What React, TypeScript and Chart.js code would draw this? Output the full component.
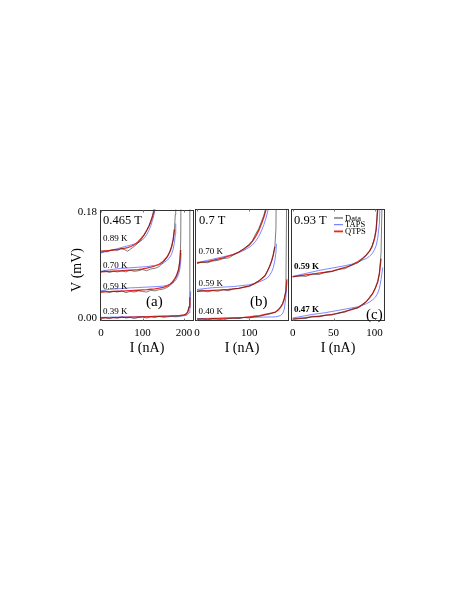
import React, { useEffect, useRef } from "react";
import { Chart, registerables } from "chart.js";
Chart.register(...registerables);

const SERIF = '"Liberation Serif", "Times New Roman", serif';

// Shared voltage axis (mV)
const V_MIN = -0.005;
const V_MAX = 0.1834;
const V_TICKS = [0, 0.18];

// ---------- Panel (a) 0.465 T ----------
const A_X_TICKS = [0, 100, 200];
const A089_I = [0, 8, 16, 24, 32, 40, 48, 56, 64, 72, 80, 88, 96, 104, 110, 116, 120, 124, 128, 132];
const A089_DATA = [0.111, 0.113, 0.112, 0.115, 0.116, 0.114, 0.118, 0.116, 0.113, 0.117, 0.121, 0.126, 0.132, 0.14, 0.148, 0.157, 0.165, 0.174, 0.186, 0.2];
const A089_QTPS = [0.113, 0.1135, 0.114, 0.1145, 0.115, 0.116, 0.117, 0.118, 0.119, 0.121, 0.124, 0.128, 0.134, 0.141, 0.148, 0.156, 0.163, 0.171, 0.181, 0.195];
const A089_TAPS = [0.11, 0.1115, 0.113, 0.1145, 0.116, 0.1175, 0.119, 0.1205, 0.122, 0.1235, 0.125, 0.127, 0.13, 0.135, 0.141, 0.149, 0.156, 0.165, 0.176, 0.19];

const A070_I = [0, 10, 20, 30, 40, 50, 60, 70, 80, 90, 100, 110, 120, 130, 140, 150, 160, 166, 170, 174, 177, 179, 180, 183];
const A070_DATA = [0.078, 0.08, 0.077, 0.079, 0.078, 0.08, 0.078, 0.081, 0.079, 0.08, 0.082, 0.08, 0.083, 0.084, 0.087, 0.094, 0.104, 0.113, 0.121, 0.134, 0.152, 0.175, 0.25, 0.3];
const A070_QTPS = [0.078, 0.0785, 0.079, 0.0793, 0.0797, 0.08, 0.0805, 0.081, 0.0815, 0.082, 0.083, 0.0843, 0.086, 0.088, 0.091, 0.096, 0.104, 0.112, 0.12, 0.133, 0.15, null, null, null];
const A070_TAPS = [0.079, 0.0805, 0.0815, 0.0825, 0.0832, 0.084, 0.0845, 0.085, 0.0855, 0.086, 0.0865, 0.087, 0.088, 0.089, 0.09, 0.093, 0.098, 0.103, 0.108, 0.117, 0.128, 0.142, 0.16, null];

const A059_I = [0, 10, 20, 30, 40, 50, 60, 70, 80, 90, 100, 110, 120, 130, 140, 150, 160, 166, 172, 177, 181, 184, 187, 190, 192, 193, 196];
const A059_DATA = [0.044, 0.046, 0.043, 0.045, 0.044, 0.046, 0.043, 0.045, 0.044, 0.046, 0.045, 0.044, 0.047, 0.046, 0.048, 0.049, 0.052, 0.055, 0.059, 0.064, 0.069, 0.074, 0.081, 0.095, 0.13, 0.25, 0.3];
const A059_QTPS = [0.044, 0.0443, 0.0446, 0.045, 0.0453, 0.0456, 0.046, 0.0463, 0.0466, 0.047, 0.0475, 0.048, 0.0487, 0.0495, 0.0505, 0.052, 0.0545, 0.057, 0.061, 0.066, 0.071, 0.076, 0.083, 0.097, 0.115, null, null];
const A059_TAPS = [0.046, 0.0475, 0.0485, 0.049, 0.0495, 0.05, 0.0505, 0.051, 0.0513, 0.0516, 0.052, 0.0523, 0.0527, 0.053, 0.0535, 0.054, 0.0555, 0.057, 0.059, 0.062, 0.065, 0.069, 0.074, 0.083, 0.095, 0.11, null];

const A039_I = [0, 10, 20, 30, 40, 50, 60, 70, 80, 90, 100, 110, 120, 130, 140, 150, 160, 170, 180, 190, 200, 205, 209, 212, 214, 216];
const A039_DATA = [0.0, 0.001, -0.001, 0.001, 0.0, 0.002, 0.0, 0.001, -0.001, 0.001, 0.002, 0.0, 0.002, 0.001, 0.003, 0.001, 0.002, 0.003, 0.002, 0.003, 0.005, 0.007, 0.011, 0.02, 0.25, 0.3];
const A039_QTPS = [0.0, 0.0002, 0.0004, 0.0006, 0.0008, 0.001, 0.0012, 0.0014, 0.0016, 0.0018, 0.002, 0.0022, 0.0024, 0.0026, 0.0028, 0.003, 0.0033, 0.0036, 0.004, 0.0045, 0.0053, 0.0065, 0.01, 0.018, 0.035, null];
const A039_TAPS = [0.001, 0.0012, 0.0014, 0.0016, 0.0018, 0.002, 0.0021, 0.0022, 0.0023, 0.0024, 0.0025, 0.0026, 0.0027, 0.0028, 0.0029, 0.003, 0.0031, 0.0032, 0.0033, 0.0035, 0.0038, 0.0045, 0.006, 0.009, 0.02, 0.045];

// ---------- Panel (b) 0.7 T ----------
const B_X_TICKS = [0, 100];
const B070_I = [0, 10, 20, 30, 40, 50, 60, 70, 80, 90, 100, 106, 112, 118, 124, 128, 132, 136, 140];
const B070_DATA = [0.092, 0.094, 0.093, 0.096, 0.097, 0.1, 0.101, 0.106, 0.111, 0.117, 0.124, 0.13, 0.141, 0.15, 0.164, 0.173, 0.187, 0.2, 0.22];
const B070_QTPS = [0.093, 0.094, 0.095, 0.097, 0.099, 0.101, 0.104, 0.107, 0.111, 0.116, 0.123, 0.129, 0.137, 0.147, 0.16, 0.17, 0.182, 0.196, 0.21];
const B070_TAPS = [0.093, 0.095, 0.097, 0.099, 0.101, 0.103, 0.105, 0.107, 0.11, 0.114, 0.119, 0.123, 0.129, 0.137, 0.148, 0.157, 0.168, 0.182, 0.2];

const B059_I = [0, 10, 20, 30, 40, 50, 60, 70, 80, 90, 100, 110, 120, 130, 135, 139, 143, 146, 149, 151, 152, 155];
const B059_DATA = [0.045, 0.047, 0.044, 0.046, 0.045, 0.048, 0.046, 0.049, 0.05, 0.052, 0.053, 0.058, 0.064, 0.071, 0.08, 0.087, 0.096, 0.106, 0.12, 0.15, 0.25, 0.3];
const B059_QTPS = [0.045, 0.0455, 0.046, 0.0465, 0.047, 0.0475, 0.048, 0.049, 0.05, 0.052, 0.054, 0.058, 0.063, 0.071, 0.079, 0.087, 0.097, 0.107, 0.12, null, null, null];
const B059_TAPS = [0.048, 0.049, 0.05, 0.051, 0.0515, 0.052, 0.0525, 0.053, 0.054, 0.055, 0.056, 0.058, 0.061, 0.065, 0.068, 0.072, 0.078, 0.085, 0.097, 0.11, 0.125, null];

const B040_I = [0, 10, 20, 30, 40, 50, 60, 70, 80, 90, 100, 110, 120, 130, 140, 150, 155, 160, 164, 167, 170, 172, 175];
const B040_DATA = [-0.002, -0.001, -0.003, -0.001, -0.002, -0.003, -0.001, 0.0, -0.001, 0.001, 0.0, 0.002, 0.003, 0.005, 0.007, 0.01, 0.014, 0.019, 0.025, 0.033, 0.046, 0.25, 0.3];
const B040_QTPS = [-0.002, -0.0018, -0.0015, -0.0012, -0.001, -0.0007, -0.0003, 0.0, 0.0005, 0.001, 0.002, 0.003, 0.004, 0.006, 0.008, 0.01, 0.013, 0.018, 0.024, 0.032, 0.045, 0.065, null];
const B040_TAPS = [-0.001, -0.0008, -0.0006, -0.0004, -0.0002, 0.0, 0.0002, 0.0004, 0.0006, 0.0008, 0.001, 0.0012, 0.0014, 0.0016, 0.0018, 0.002, 0.003, 0.004, 0.008, 0.015, 0.035, 0.06, null];

// ---------- Panel (c) 0.93 T ----------
const C_X_TICKS = [0, 50, 100];
const C059_I = [0, 8, 16, 24, 32, 40, 48, 56, 64, 72, 80, 86, 90, 94, 97, 100, 102, 104, 106, 108];
const C059_DATA = [0.069, 0.071, 0.07, 0.074, 0.073, 0.077, 0.078, 0.082, 0.083, 0.089, 0.093, 0.1, 0.106, 0.112, 0.121, 0.135, 0.15, 0.19, 0.3, 0.35];
const C059_QTPS = [0.0695, 0.071, 0.0725, 0.074, 0.0755, 0.077, 0.079, 0.082, 0.085, 0.089, 0.095, 0.101, 0.106, 0.113, 0.12, 0.133, 0.148, 0.185, 0.3, 0.35];
const C059_TAPS = [0.07, 0.0725, 0.075, 0.0775, 0.08, 0.082, 0.084, 0.086, 0.088, 0.0905, 0.094, 0.098, 0.1, 0.104, 0.108, 0.115, 0.122, 0.135, 0.16, 0.25];

const C047_I = [0, 8, 16, 24, 32, 40, 48, 56, 64, 72, 80, 86, 90, 94, 98, 101, 104, 106, 108, 110, 112];
const C047_DATA = [-0.002, 0.0, -0.001, 0.003, 0.002, 0.005, 0.005, 0.009, 0.01, 0.015, 0.017, 0.024, 0.027, 0.035, 0.042, 0.051, 0.06, 0.076, 0.11, 0.25, 0.3];
const C047_QTPS = [-0.002, -0.001, 0.0005, 0.002, 0.003, 0.0045, 0.006, 0.008, 0.011, 0.014, 0.018, 0.023, 0.028, 0.034, 0.042, 0.05, 0.062, 0.075, 0.1, null, null];
const C047_TAPS = [0.0, 0.002, 0.004, 0.006, 0.0075, 0.009, 0.011, 0.013, 0.015, 0.017, 0.019, 0.022, 0.024, 0.027, 0.031, 0.035, 0.042, 0.05, 0.065, 0.085, null];

type Curve = { I: number[]; data: (number | null)[]; taps: (number | null)[]; qtps: (number | null)[] };
type Txt = { t: string; x: number; y: number; size: number; bold?: boolean; align?: CanvasTextAlign };

const COL_DATA = "#262626";
const COL_TAPS = "#5b6bff";
const COL_QTPS = "#e62a22";

const PANELS = [
  {
    key: "a", pageLeft: 55, pageTop: 200, w: 145, h: 160, showY: true,
    padLeft: 0, xMin: -2.4, xMax: 224, xTicks: A_X_TICKS,
    curves: [
      { I: A089_I, data: A089_DATA, taps: A089_TAPS, qtps: A089_QTPS },
      { I: A070_I, data: A070_DATA, taps: A070_TAPS, qtps: A070_QTPS },
      { I: A059_I, data: A059_DATA, taps: A059_TAPS, qtps: A059_QTPS },
      { I: A039_I, data: A039_DATA, taps: A039_TAPS, qtps: A039_QTPS },
    ] as Curve[],
    texts: [
      { t: "0.465 T", x: 103, y: 221, size: 12.5 },
      { t: "0.89 K", x: 103, y: 239, size: 9 },
      { t: "0.70 K", x: 103, y: 266, size: 9 },
      { t: "0.59 K", x: 103, y: 287, size: 9 },
      { t: "0.39 K", x: 103, y: 312, size: 9 },
      { t: "(a)", x: 146, y: 302, size: 15 },
    ] as Txt[],
    legend: false,
  },
  {
    key: "b", pageLeft: 185, pageTop: 200, w: 110, h: 160, showY: false,
    padLeft: 10, xMin: -3.8, xMax: 176, xTicks: B_X_TICKS,
    curves: [
      { I: B070_I, data: B070_DATA, taps: B070_TAPS, qtps: B070_QTPS },
      { I: B059_I, data: B059_DATA, taps: B059_TAPS, qtps: B059_QTPS },
      { I: B040_I, data: B040_DATA, taps: B040_TAPS, qtps: B040_QTPS },
    ] as Curve[],
    texts: [
      { t: "0.7 T", x: 199, y: 221, size: 12.5 },
      { t: "0.70 K", x: 198.5, y: 252, size: 9 },
      { t: "0.59 K", x: 198.5, y: 284, size: 9 },
      { t: "0.40 K", x: 198.5, y: 312, size: 9 },
      { t: "(b)", x: 250, y: 302, size: 15 },
    ] as Txt[],
    legend: false,
  },
  {
    key: "c", pageLeft: 281, pageTop: 200, w: 110, h: 160, showY: false,
    padLeft: 10, xMin: -2, xMax: 112.8, xTicks: C_X_TICKS,
    curves: [
      { I: C059_I, data: C059_DATA, taps: C059_TAPS, qtps: C059_QTPS },
      { I: C047_I, data: C047_DATA, taps: C047_TAPS, qtps: C047_QTPS },
    ] as Curve[],
    texts: [
      { t: "0.93 T", x: 294, y: 221, size: 12.5 },
      { t: "0.59 K", x: 294, y: 267, size: 9, bold: true },
      { t: "0.47 K", x: 294, y: 310, size: 9, bold: true },
      { t: "(c)", x: 366, y: 315, size: 15 },
    ] as Txt[],
    legend: true,
  },
];

function buildDatasets(curves: Curve[]) {
  const pts = (c: Curve, key: "data" | "taps" | "qtps") => c.I.map((x, i) => ({ x, y: c[key][i] }));
  const common = { showLine: true, pointRadius: 0, fill: false, tension: 0, clip: 0, spanGaps: false };
  const black = curves.map((c) => ({ ...common, label: "Data", data: pts(c, "data"), borderColor: COL_DATA, borderWidth: 0.6 }));
  const red = curves.map((c) => ({ ...common, label: "QTPS", data: pts(c, "qtps"), borderColor: COL_QTPS, borderWidth: 1.3 }));
  const blue = curves.map((c) => ({ ...common, label: "TAPS", data: pts(c, "taps"), borderColor: COL_TAPS, borderWidth: 0.8 }));
  return [...black, ...red, ...blue];
}

function decorPlugin(p: any) {
  return {
    id: "decor_" + p.key,
    afterDraw(chart: any) {
      const { ctx, chartArea: a, scales } = chart;
      const ox = p.pageLeft, oy = p.pageTop;
      ctx.save();
      // frame
      ctx.strokeStyle = "#333";
      ctx.lineWidth = 1;
      const L = Math.round(a.left) + 0.5, T = Math.round(a.top) + 0.5;
      const R = Math.round(a.right) - 0.5, B = Math.round(a.bottom) - 0.5;
      ctx.strokeRect(L, T, R - L, B - T);
      // inward ticks on the current axis
      ctx.strokeStyle = "#777";
      ctx.beginPath();
      for (const v of p.xTicks) {
        const x = Math.round(scales.x.getPixelForValue(v)) + 0.5;
        ctx.moveTo(x, B); ctx.lineTo(x, B - 2);
        ctx.moveTo(x, T); ctx.lineTo(x, T + 2);
      }
      ctx.stroke();
      // texts
      ctx.fillStyle = "#000";
      ctx.textBaseline = "middle";
      for (const t of p.texts as Txt[]) {
        ctx.font = `${t.bold ? "bold " : ""}${t.size}px ${SERIF}`;
        ctx.textAlign = t.align || "left";
        ctx.fillText(t.t, t.x - ox, t.y - oy);
      }
      // x title
      ctx.font = `14px ${SERIF}`;
      ctx.textAlign = "center";
      ctx.fillText("I (nA)", (a.left + a.right) / 2, 348 - oy);
      // y title
      if (p.showY) {
        ctx.save();
        ctx.translate(77 - ox, 270 - oy);
        ctx.rotate(-Math.PI / 2);
        ctx.fillText("V (mV)", 0, 0);
        ctx.restore();
      }
      // legend
      if (p.legend) {
        const items = [
          { t: "Data", c: COL_DATA, w: 0.9 },
          { t: "TAPS", c: COL_TAPS, w: 1 },
          { t: "QTPS", c: COL_QTPS, w: 1.8 },
        ];
        items.forEach((it, i) => {
          const y = 218 + i * 6.7 - oy;
          ctx.strokeStyle = it.c;
          ctx.lineWidth = it.w;
          ctx.beginPath();
          ctx.moveTo(334 - ox, y);
          ctx.lineTo(343 - ox, y);
          ctx.stroke();
          ctx.font = `8.5px ${SERIF}`;
          ctx.textAlign = "left";
          ctx.fillText(it.t, 345 - ox, y + 0.5);
        });
      }
      ctx.restore();
    },
  };
}

function makeConfig(p: any) {
  const tickFont = { family: SERIF, size: 11 };
  return {
    type: "scatter",
    data: { datasets: buildDatasets(p.curves) },
    options: {
      animation: false,
      responsive: false,
      maintainAspectRatio: false,
      layout: { padding: { top: 9, right: 6, left: p.padLeft, bottom: 0 } },
      plugins: { legend: { display: false }, tooltip: { enabled: false } },
      scales: {
        x: {
          type: "linear",
          position: "bottom",
          min: p.xMin,
          max: p.xMax,
          afterFit: (s: any) => { s.height = 39; },
          afterBuildTicks: (s: any) => { s.ticks = p.xTicks.map((v: number) => ({ value: v })); },
          ticks: { font: tickFont, color: "#000", padding: 6, maxRotation: 0, autoSkip: false, callback: (v: any) => String(v) },
          grid: { display: false, drawTicks: false },
          border: { display: false },
        },
        y: p.showY
          ? {
              type: "linear",
              position: "left",
              min: V_MIN,
              max: V_MAX,
              afterFit: (s: any) => { s.width = 45; },
              afterBuildTicks: (s: any) => { s.ticks = V_TICKS.map((v) => ({ value: v })); },
              ticks: { font: tickFont, color: "#000", padding: 3, callback: (v: any) => Number(v).toFixed(2) },
              grid: { display: false, drawTicks: false },
              border: { display: false },
            }
          : { type: "linear", display: false, min: V_MIN, max: V_MAX },
      },
    },
    plugins: [decorPlugin(p)],
  };
}

export default function App() {
  const refs = [useRef<HTMLCanvasElement>(null), useRef<HTMLCanvasElement>(null), useRef<HTMLCanvasElement>(null)];
  useEffect(() => {
    const charts = PANELS.map((p, i) => new Chart(refs[i].current as HTMLCanvasElement, makeConfig(p) as any));
    return () => charts.forEach((c) => c.destroy());
  }, []);
  return (
    <div style={{ position: "relative", width: 441, height: 575 }}>
      {PANELS.map((p, i) => (
        <canvas
          key={p.key}
          ref={refs[i]}
          width={p.w}
          height={p.h}
          style={{ position: "absolute", left: p.pageLeft - 8, top: p.pageTop - 8, width: p.w, height: p.h }}
        />
      ))}
    </div>
  );
}
